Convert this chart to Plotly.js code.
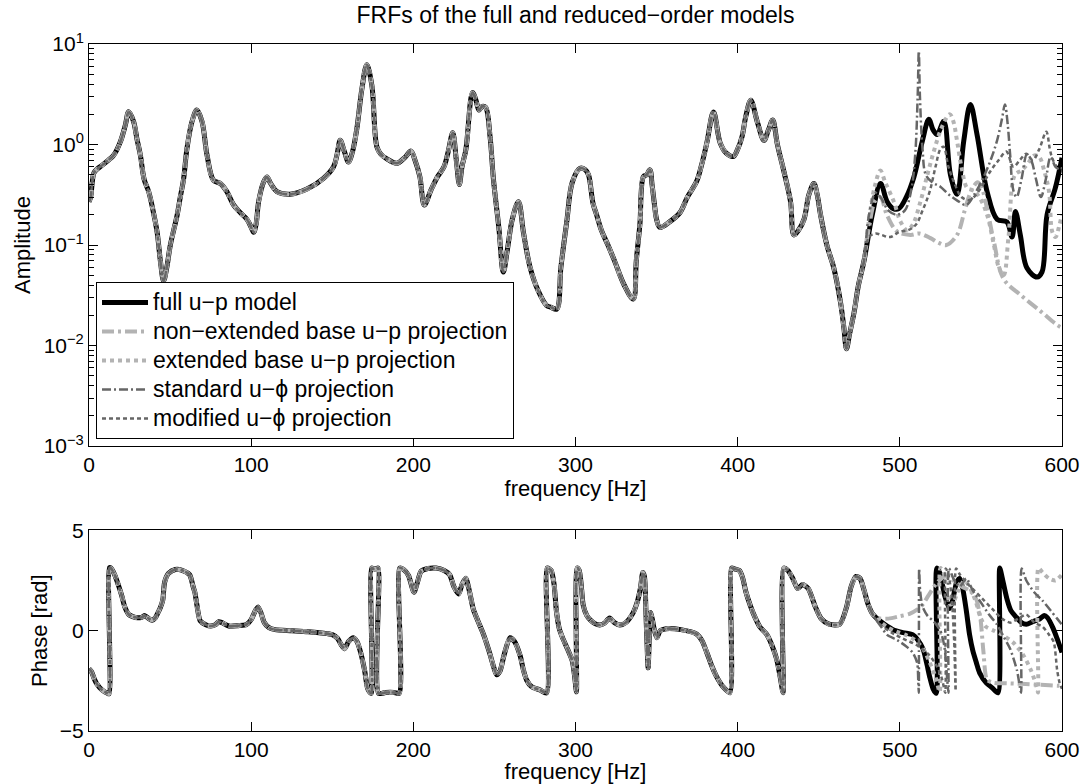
<!DOCTYPE html>
<html><head><meta charset="utf-8">
<script src="https://cdn.plot.ly/plotly-3.0.1.min.js"></script>
<style>html,body{margin:0;padding:0;background:#fff}</style>
</head><body>
<div id="chart" style="width:1086px;height:784px"></div>
<script>
// ---------------- DATA ----------------
// Amplitude, part shared by all five models (0 - 478 Hz)
const ampSharedF = [0,1,2,3,5,8,12,15.2,19.3,22.4,24.5,27.5,29.5,31.7,34,36.8,39,42,44,46,48,50.1,54.3,56.3,58.3,60.4,63.5,66.5,69.7,72.8,76.8,81,85,89.2,93.3,97.4,100,101.5,103,104.6,107.6,109.7,112,115.9,124,134.4,144.6,150.8,153,154.9,157.5,160,162.5,165.2,168.3,171.3,174.4,177.5,180,183.7,189.8,195,198.6,201,204,206.8,210.8,215,218.9,221.5,224.3,226.5,228.4,230,232.4,236.5,238.5,240.5,242.5,244.6,247.3,249.4,252.7,255.5,258,261,264.8,268,272,277,282.2,285,288.4,291,294.6,298,302.8,306,308,310.8,313,316,320,324,330,335.6,337.5,339.7,341.9,343.9,345.9,347.2,348.6,350,352,358,364.4,369,374.7,378,381,385.1,389.2,393,397.3,400,402.7,405,408.1,412.2,416.2,419,421.6,424.5,428.5,432.6,434.7,437.5,440.9,444,447,449,451.1,455,459.3,463.4,465.5,467.1,469,471.7,474.5,477.8];
const ampShared = [0.27,0.3,0.42,0.52,0.57,0.62,0.7,0.78,1.06,1.56,2.12,1.69,1.15,0.78,0.45,0.34,0.24,0.134,0.07,0.044,0.06,0.099,0.197,0.3,0.45,0.91,1.69,2.2,1.69,0.78,0.44,0.41,0.34,0.25,0.21,0.18,0.15,0.134,0.16,0.27,0.42,0.475,0.41,0.34,0.32,0.36,0.46,0.6,0.8,1.1,0.85,0.67,0.85,1.45,3.6,6.2,3.9,0.95,0.8,0.72,0.65,0.75,0.86,0.7,0.48,0.25,0.35,0.48,0.6,0.85,1.31,0.7,0.4,0.6,0.89,3.3,2.8,2.2,2.4,2.34,1.2,0.45,0.15,0.054,0.09,0.18,0.27,0.13,0.06,0.035,0.025,0.024,0.023,0.06,0.17,0.42,0.58,0.56,0.5,0.26,0.2,0.14,0.1,0.07,0.04,0.029,0.07,0.16,0.48,0.5,0.56,0.4,0.26,0.18,0.15,0.17,0.21,0.3,0.43,0.65,1.04,2.1,1.04,0.82,0.76,0.9,1.2,1.9,2.75,1.66,1.1,1.4,1.75,1.0,0.54,0.27,0.126,0.14,0.18,0.32,0.41,0.32,0.2,0.1,0.059,0.027,0.015,0.0093,0.013,0.021,0.04,0.068];

// Amplitude tails (478 - 600 Hz), one per model
const ampFullTailF = [483,488.1,492.2,496,499.4,504,508.6,513.8,517.9,520.5,523,527.1,531.2,535.3,539.4,543.5,547.6,553.8,560,566,569.2,571.3,574.3,578.4,584.6,587.7,590.8,595.9,600];
const ampFullTail  = [0.2,0.41,0.27,0.23,0.23,0.3,0.47,1.07,1.78,1.4,1.26,1.7,0.5,0.32,1.08,2.5,1.26,0.34,0.18,0.17,0.12,0.215,0.126,0.059,0.048,0.054,0.2,0.37,0.74];
const ampNonExtTailF = [481,485,488,492,498.4,506.6,512,518.9,524,528.7,535.3,540,543.5,548,551,553.8,558,564,574.3,586.7,597,600];
const ampNonExtTail  = [0.15,0.28,0.3,0.2,0.136,0.126,0.13,0.117,0.105,0.1,0.126,0.22,0.33,0.42,0.35,0.23,0.108,0.046,0.032,0.022,0.016,0.015];
const ampExtTailF = [481,484.5,488,491,496.3,500.5,504.5,508,512.7,517,521,526,530.8,533,535.3,538,541.5,545,549,553.8,558,561,564,567,571,575,579,583,586,589,592,594,596,598.5,600];
const ampExtTail  = [0.18,0.38,0.55,0.42,0.27,0.17,0.14,0.16,0.27,0.5,0.86,1.5,2.0,1.7,1.08,0.6,0.37,0.35,0.3,0.2,0.1,0.06,0.05,0.12,0.5,0.55,0.65,0.78,0.75,0.55,0.34,0.135,0.12,0.16,0.2];
const ampStdTailF = [481,485,488,493,498,503,507,509.5,511,511.7,512.4,514,516,520,525,530,535,541,546,551,556,560,563,564.8,566.5,568,570,572,575,578.4,581,584,587,590,593,596,600];
const ampStdTail  = [0.2,0.33,0.3,0.22,0.2,0.22,0.35,0.8,3.0,8.5,3.0,0.9,0.5,0.42,0.38,0.32,0.28,0.25,0.32,0.45,0.7,1.1,1.8,2.5,1.6,0.8,0.35,0.3,0.45,0.8,0.7,0.45,0.3,0.45,0.75,0.6,0.55];
const ampModTailF = [481,485,488.6,494,500,505,510,514,518.4,522,525,527,530,534,538,543,549,555.4,561,565.7,570,574,578,582,586,590.3,592.5,594,597,600];
const ampModTail  = [0.12,0.13,0.126,0.12,0.136,0.14,0.16,0.22,0.34,0.6,0.9,0.95,0.6,0.4,0.3,0.28,0.35,0.53,0.7,0.85,0.6,0.7,0.81,0.7,0.9,1.34,0.9,0.73,0.6,0.58];

// Phase, part shared by all five models (0 - 478 Hz)
const phSharedF = [0,1.5,3,4.8,8,11.4,12.4,12.6,13.5,15.8,18,20.2,22,24.6,27,30,32.3,34.5,36.5,38.9,41,42.2,44,45.5,46.6,49,53.2,57,62,64.2,65.3,66.5,68.6,72,75.2,78,80,82,86.2,92,97.1,100,102.6,104.2,106,108.1,111,114.7,125,135,143.3,150,153.2,155.5,157.6,160,163,165.3,167.5,170,171.9,174,174.3,175.5,177,178.3,178.6,183,188,191.3,191.6,194,197,200.4,202.5,204.8,209,214,219,222.4,225,228,230,232.3,234.5,237,240,243.2,247,249.5,251.4,253.5,256,259.6,262.5,265.8,268,269.9,273,278,282.2,282.6,285,286.8,288.2,290,292,295,298,299.5,300.6,301,302.3,303.5,304.8,307,309,312,315,318,321,324,327.4,331,335.6,338,340,341.5,342.5,343.6,344.8,345.4,346.2,347.3,348.7,350.2,352.3,356,365,374.7,378,380.8,384,387,391,395.2,396.3,398,401,403,405,407.8,410.5,413.7,417.8,421,424,426.2,428,428.4,431,434,437,440,443.5,447.9,451.5,456.4,462.9,467.2,470,473,475.5,478];
const phShared = [-1.9,-2.04,-2.35,-2.65,-2.95,-3.12,-3.14,3.14,3.12,2.79,2.3,1.74,1.2,0.8,0.7,0.64,0.66,0.75,0.62,0.52,0.65,0.84,1.15,1.53,2.4,2.85,3.05,3.02,2.79,2.2,1.9,1.3,0.49,0.3,0.23,0.3,0.45,0.4,0.23,0.25,0.31,0.55,1.0,1.18,0.9,0.4,0.15,0.05,0.0,-0.05,-0.12,-0.2,-0.38,-0.7,-0.9,-0.55,-0.35,-0.55,-1.08,-2.0,-2.9,-3.13,3.12,3.08,3.08,3.12,-3.12,-3.08,-3.08,-3.12,3.12,3.05,2.75,1.92,2.4,2.96,3.1,3.12,3.0,2.79,2.2,1.83,2.3,2.61,2.0,1.07,0.45,-0.17,-1.1,-1.8,-2.2,-2.0,-1.2,-0.35,-0.55,-1.23,-2.0,-2.47,-2.8,-2.95,-3.1,3.12,3.0,2.3,1.0,0.1,-0.35,-0.9,-1.5,-2.3,-3.05,3.12,3.0,2.3,1.25,0.75,0.54,0.35,0.28,0.38,0.63,0.4,0.28,0.4,0.9,1.4,2.1,2.9,2.7,0.5,-1.85,-0.6,0.9,0.6,0.0,-0.35,0.0,0.1,0.05,-0.17,-0.5,-1.05,-1.75,-2.29,-2.8,-3.09,3.12,3.08,3.0,2.65,1.95,1.25,0.7,0.19,-0.17,-0.7,-1.41,-2.3,-3.09,3.12,3.0,2.6,2.1,2.3,2.1,1.19,0.6,0.32,0.32,1.19,2.2,2.7,2.6,2.0];

// Phase tails (478 - 600 Hz)
const phFullTailF = [480.5,483.5,487.6,495.8,502,508.1,511,514.3,516.5,518.4,520.5,522.5,522.8,525,527.5,530.7,532.5,535,537,539,541,543,545,547.2,549.2,553.3,557,560.5,561.6,563.5,566,568.5,571.8,575,578,582,586.2,589,591,594.4,597,600];
const phFullTail  = [1.3,0.8,0.49,0.05,-0.1,-0.21,-0.45,-0.91,-1.6,-2.3,-2.9,-3.12,3.12,2.8,1.8,1.1,1.5,2.4,2.6,2.0,1.0,-0.2,-1.0,-1.6,-2.1,-2.6,-2.85,-3.1,3.12,2.5,1.6,1.0,0.67,0.4,0.32,0.45,0.58,0.75,0.65,0.14,-0.4,-1.09];
const phNonExtTailF = [480.5,483,487,493,500,506,513,518,523,528,533,538,543,547,549.7,551.5,553.8,558,566,575,587,598,600];
const phNonExtTail  = [1.3,0.85,0.62,0.6,0.72,0.84,1.19,1.8,2.4,2.7,2.5,2.2,2.0,1.6,0.6,-1.0,-2.45,-2.6,-2.62,-2.65,-2.7,-2.75,-2.75];
const phExtTailF = [480.5,483.5,487,493,498,503.6,509,514.4,518.5,522,524.6,525,527,529,531,533,536,540,544,547,550,553,558,563,570,576,581,584,585.2,585.5,588,592,596,600];
const phExtTail  = [1.3,0.8,0.5,0.14,-0.05,-0.21,-0.45,-0.91,-1.6,-2.3,-3.05,3.12,2.9,2.0,1.3,1.4,2.0,2.5,2.0,1.4,0.6,0.2,0.0,-0.2,-0.6,-1.2,-2.0,-2.7,-3.08,3.12,2.9,2.6,2.5,2.8];
const phStdTailF = [480.5,484,488,492.2,498.4,504.5,508,510.7,511.4,511.7,511.9,512.5,514,517,521,525,527.5,529.2,530,530.3,533,537,541,545,550,555,560,564,568,572.3,574,574.8,575.1,578,583,588,593,597,600];
const phStdTail  = [1.3,0.7,0.25,-0.21,-0.47,-0.82,-1.1,-1.61,-2.6,-3.1,3.1,2.0,1.2,0.75,0.45,0.0,-0.8,-2.4,-3.1,3.1,2.6,2.2,2.6,2.0,1.4,0.8,0.3,-0.3,-0.9,-2.0,-2.8,-3.1,3.1,2.5,1.9,1.5,1.0,0.6,0.3];
const phModTailF = [480.5,484,488,495,502,510,518,523,526,528,528.3,530,532,533.5,534.4,534.7,537,541,546,552,558,563,568,573,578,583,588,592,594.9,597,598.5,600];
const phModTail  = [1.3,0.7,0.3,-0.1,-0.4,-0.7,-1.2,-1.8,-2.4,-3.1,3.1,2.8,1.6,-0.5,-3.0,3.1,2.8,2.4,2.0,1.5,1.0,0.6,0.4,0.6,0.8,0.4,0.2,-0.2,-0.56,-1.96,-2.6,-2.9];

const seriesNames = ['full u\u2212p model','non\u2212extended base u\u2212p projection','extended base u\u2212p projection','standard u\u2212\u03d5 projection','modified u\u2212\u03d5 projection'];
const ampTicks = [0.001,0.01,0.1,1,10];
const ampTickText = ['10<sup>\u22123</sup>','10<sup>\u22122</sup>','10<sup>\u22121</sup>','10<sup>0</sup>','10<sup>1</sup>'];
const freqTicks = [0,100,200,300,400,500,600];
const phaseTicks = [-5,0,5];

// ---------------- STYLES ----------------
const LIGHT = '#b3b3b3', DARK = '#666666';
const styles = [
  {color:'#000000', width:5, dash:'solid'},
  {color:LIGHT, width:4, dash:'12px,4px,3px,4px'},
  {color:LIGHT, width:4, dash:'4px,4px'},
  {color:DARK, width:2.5, dash:'9px,3px,2px,3px'},
  {color:DARK, width:2.5, dash:'4px,3px'}
];

const ampF = [ampFullTailF, ampNonExtTailF, ampExtTailF, ampStdTailF, ampModTailF];
const ampV = [ampFullTail, ampNonExtTail, ampExtTail, ampStdTail, ampModTail];
const phF = [phFullTailF, phNonExtTailF, phExtTailF, phStdTailF, phModTailF];
const phV = [phFullTail, phNonExtTail, phExtTail, phStdTail, phModTail];

const traces = [];
for (let i = 0; i < 5; i++) {
  traces.push({
    x: ampSharedF.concat(ampF[i]), y: ampShared.concat(ampV[i]),
    xaxis:'x', yaxis:'y', type:'scatter', mode:'lines',
    name: '<span style="font-size:23px">' + seriesNames[i] + '</span>',
    line:{color:styles[i].color, width:styles[i].width, dash:styles[i].dash, shape:'spline', smoothing:1},
    hoverinfo:'skip'
  });
}
for (let i = 0; i < 5; i++) {
  traces.push({
    x: phSharedF.concat(phF[i]), y: phShared.concat(phV[i]),
    xaxis:'x2', yaxis:'y2', type:'scatter', mode:'lines', name: seriesNames[i], showlegend:false,
    line:{color:styles[i].color, width:styles[i].width, dash:styles[i].dash, shape:'spline', smoothing:0.7},
    hoverinfo:'skip'
  });
}

// minor log ticks (style only)
const minorVals = [];
for (let e = -3; e < 1; e++) for (let k = 2; k <= 9; k++) minorVals.push(k * Math.pow(10, e));

const FONT = 'Liberation Sans, Arial, Helvetica, sans-serif';
const TF = 21, LF = 22;
const axCommon = {showline:true, linecolor:'#000', linewidth:1, mirror:'ticks', ticks:'inside', tickcolor:'#000', tickwidth:1, showgrid:false, zeroline:false, tickfont:{size:TF, color:'#000', family:FONT}};

const layout = {
  width:1086, height:784,
  margin:{l:89, r:24, t:44, b:53},
  paper_bgcolor:'#fff', plot_bgcolor:'#fff',
  font:{family:FONT, color:'#000', size:LF},
  title:{text:'FRFs of the full and reduced\u2212order models', font:{size:23, family:FONT, color:'#000'}, x:0.5, xref:'paper', xanchor:'center', y:0.981, yref:'container', yanchor:'middle'},
  showlegend:true,
  legend:{x:0.0072, y:0.6536, xanchor:'left', yanchor:'top', bgcolor:'#fff', bordercolor:'#000', borderwidth:1, font:{size:20, family:FONT, color:'#000'}, tracegroupgap:0, itemwidth:46},
  xaxis: Object.assign({}, axCommon, {domain:[0,1], anchor:'y', range:[0,600], tickvals:freqTicks, ticklen:9, title:{text:'frequency [Hz]', font:{size:LF}, standoff:0}}),
  yaxis: Object.assign({}, axCommon, {domain:[0.4148,1], anchor:'x', type:'log', range:[-3,1], tickvals:ampTicks, ticktext:ampTickText, ticklen:9,
          minor:{tickvals:minorVals, ticks:'inside', ticklen:5, tickcolor:'#000', tickwidth:1, showgrid:false},
          title:{text:'Amplitude', font:{size:LF}, standoff:6}}),
  xaxis2: Object.assign({}, axCommon, {domain:[0,1], anchor:'y2', range:[0,600], tickvals:freqTicks, ticklen:9, title:{text:'frequency [Hz]', font:{size:LF}, standoff:0}}),
  yaxis2: Object.assign({}, axCommon, {domain:[0,0.2921], anchor:'x2', range:[-5,5], tickvals:phaseTicks, ticklen:9, title:{text:'Phase [rad]', font:{size:LF}, standoff:6}})
};

Plotly.newPlot('chart', traces, layout, {staticPlot:true, displayModeBar:false});
</script>
</body></html>
